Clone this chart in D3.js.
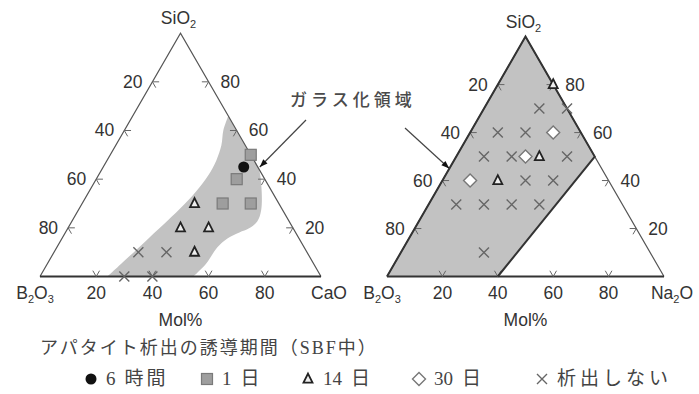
<!DOCTYPE html>
<html><head><meta charset="utf-8">
<script src="https://cdn.jsdelivr.net/npm/d3@7"></script>
<style>
body{margin:0;background:#fff;}
svg{display:block;}
</style></head><body>
<svg id="chart" width="699" height="394"></svg>
<script>
// Compositions in mol%: [B2O3, SiO2, modifier oxide]
const caoSixHours = [[5, 45, 50]];
const caoOneDay = [[0, 50, 50], [10, 40, 50], [20, 30, 50], [10, 30, 60]];
const caoFourteenDays = [[30, 30, 40], [40, 20, 40], [30, 20, 50], [40, 10, 50]];
const caoNone = [[60, 10, 30], [50, 10, 40], [70, 0, 30], [60, 0, 40]];

const na2oFourteenDays = [[0, 80, 20], [20, 50, 30], [40, 40, 20]];
const na2oThirtyDays = [[10, 60, 30], [25, 50, 25], [50, 40, 10]];
const na2oNone = [[10, 70, 20], [0, 70, 30], [30, 60, 10], [20, 60, 20], [40, 50, 10],
  [30, 50, 20], [10, 50, 40], [30, 40, 30], [20, 40, 40], [60, 30, 10], [50, 30, 20],
  [40, 30, 30], [30, 30, 40], [60, 10, 30]];

// Glass-forming region of B2O3-SiO2-CaO: right side (top -> base), then left side (base -> top)
const caoGlassRight = [[0, 66, 34], [0, 55, 45], [0, 44.5, 55.5], [2.5, 37.5, 60], [7.7, 27.2, 65.1],
  [11.4, 22.6, 66], [15.7, 19.8, 64.5], [20, 18.1, 61.9], [25.5, 15.6, 58.9], [31, 11.9, 57.1],
  [38.3, 5.2, 56.5], [45.4, 0, 54.6]];
const caoGlassLeft = [[76, 0, 24], [55.9, 14, 30.1], [36.6, 27.6, 35.8], [26.9, 35, 38.1],
  [19.3, 41.6, 39.1], [13.4, 47.7, 38.9], [8.5, 53.9, 37.6], [4.7, 60.1, 35.2], [0, 66, 34]];
// Glass-forming region of B2O3-SiO2-Na2O
const na2oGlassRegion = [[100, 0, 0], [0, 100, 0], [0, 50, 50], [60, 0, 40]];

const tickValues = [20, 40, 60, 80];
const axisTitle = "Mol%";
const regionLabel = "ガラス化領域";
const legendTitle = "アパタイト析出の誘導期間（SBF中）";
const legendLabels = ["6 時間", "1 日", "14 日", "30 日", "析出しない"];

const svg = d3.select("#chart");
const INK = "#333";
const SANS = "'Liberation Sans', Arial, sans-serif";

function makeTernary(x0, x1, yBase) {
  const side = x1 - x0;
  const h = side * Math.sqrt(3) / 2;
  const xs = d3.scaleLinear().domain([0, 100]).range([x0, x1]);
  const ys = d3.scaleLinear().domain([0, 100]).range([yBase, yBase - h]);
  const proj = d => [xs(d[2] + d[1] / 2), ys(d[1])];
  return { xs, ys, proj, side, h, x0, x1, yBase };
}

const left = makeTernary(40, 321, 276.5);
const right = makeTernary(387, 664, 276.5);

// chemical formula text; digits following a letter are set as subscripts
function formula(g, str, x, y, anchor) {
  const t = g.append("text").attr("x", x).attr("y", y).attr("text-anchor", anchor)
    .attr("font-family", SANS).attr("font-size", 17.5).attr("fill", INK);
  const parts = str.match(/[A-Za-z]+|\d/g);
  let shifted = false;
  parts.forEach(p => {
    const isSub = /\d/.test(p);
    const ts = t.append("tspan").text(p);
    if (isSub) { ts.attr("font-size", 11).attr("dy", 4); shifted = true; }
    else if (shifted) { ts.attr("dy", -4); shifted = false; }
  });
  return t;
}

function drawFrame(T, cornerLabel) {
  const g = svg.append("g");
  const A = T.proj([0, 100, 0]), B = T.proj([100, 0, 0]), C = T.proj([0, 0, 100]);
  g.append("path").attr("d", `M${B}L${A}L${C}`).attr("fill", "none")
    .attr("stroke", "#555").attr("stroke-width", 1.2);
  g.append("line").attr("x1", B[0]).attr("y1", B[1]).attr("x2", C[0]).attr("y2", C[1])
    .attr("stroke", INK).attr("stroke-width", 2.2);

  // chevron ticks along the three edges
  const d = 2.4;
  const tick = (p, a1, a2) => {
    const P = T.proj(p), Q = T.proj(a1), R = T.proj(a2);
    g.append("path").attr("d", `M${Q}L${P}L${R}`).attr("fill", "none")
      .attr("stroke", "#666").attr("stroke-width", 1);
  };
  const label = (x, y, anchor, v) => g.append("text").attr("x", x).attr("y", y)
    .attr("text-anchor", anchor).attr("font-family", SANS).attr("font-size", 17.5)
    .attr("fill", INK).text(v);
  tickValues.forEach(v => {
    // left edge: B2O3 content
    tick([v, 100 - v, 0], [v - d, 100 - v, d], [v, 100 - v - d, d]);
    // right edge: SiO2 content
    tick([0, v, 100 - v], [d, v, 100 - v - d], [d, v - d, 100 - v]);
    // base: modifier oxide content
    tick([100 - v, 0, v], [100 - v - d, d, v], [100 - v, d, v - d]);

    const pl = T.proj([v, 100 - v, 0]);
    label(pl[0] - 10, pl[1] + 6, "end", v);
    const pr = T.proj([0, v, 100 - v]);
    label(pr[0] + 12, pr[1] + 6, "start", v);
    const pb = T.proj([100 - v, 0, v]);
    label(pb[0], pb[1] + 22, "middle", v);
  });

  formula(g, "SiO2", A[0] - 2, A[1] - 9, "middle");
  formula(g, "B2O3", B[0] - 5, B[1] + 22, "middle");
  formula(g, cornerLabel, C[0] + 8, C[1] + 22, "middle");
  g.append("text").attr("x", A[0]).attr("y", 326).attr("text-anchor", "middle")
    .attr("font-family", SANS).attr("font-size", 17.5).attr("fill", INK).text(axisTitle);
  return g;
}

// marker shapes
function marker(g, type, x, y) {
  if (type === "circle") {
    g.append("circle").attr("cx", x).attr("cy", y).attr("r", 5.5).attr("fill", "#111");
  } else if (type === "square") {
    g.append("rect").attr("x", x - 5.5).attr("y", y - 5.5).attr("width", 11).attr("height", 11)
      .attr("fill", "#9e9e9e").attr("stroke", "#7a7a7a").attr("stroke-width", 1.2);
  } else if (type === "triangle") {
    const s = 9;
    g.append("path").attr("d", `M${x},${y - s * 0.6}L${x + s / 2},${y + s * 0.4}L${x - s / 2},${y + s * 0.4}Z`)
      .attr("fill", "#eee").attr("stroke", "#222").attr("stroke-width", 1.8);
  } else if (type === "diamond") {
    const s = 6.5;
    g.append("path").attr("d", `M${x},${y - s}L${x + s},${y}L${x},${y + s}L${x - s},${y}Z`)
      .attr("fill", "#fff").attr("stroke", "#777").attr("stroke-width", 1.4);
  } else if (type === "cross") {
    const s = 5;
    g.append("path").attr("d", `M${x - s},${y - s}L${x + s},${y + s}M${x + s},${y - s}L${x - s},${y + s}`)
      .attr("stroke", "#666").attr("stroke-width", 1.4).attr("fill", "none");
  }
}

// ---- B2O3-SiO2-CaO ----
const curve = d3.line().curve(d3.curveCatmullRom.alpha(0.5));
const rightPath = curve(caoGlassRight.map(left.proj));
const leftPath = curve(caoGlassLeft.map(left.proj)).replace(/^M/, "L");
svg.append("path").attr("d", rightPath + leftPath + "Z").attr("fill", "#c2c2c2").attr("stroke", "none");
drawFrame(left, "CaO");
const gl = svg.append("g");
caoNone.forEach(d => marker(gl, "cross", ...left.proj(d)));
caoFourteenDays.forEach(d => marker(gl, "triangle", ...left.proj(d)));
caoOneDay.forEach(d => marker(gl, "square", ...left.proj(d)));
caoSixHours.forEach(d => marker(gl, "circle", ...left.proj(d)));

// ---- B2O3-SiO2-Na2O ----
svg.append("path").attr("d", d3.line()(na2oGlassRegion.map(right.proj)) + "Z")
  .attr("fill", "#c2c2c2").attr("stroke", "none");
drawFrame(right, "Na2O");
svg.append("path").attr("d", d3.line()(na2oGlassRegion.map(right.proj)))
  .attr("fill", "none").attr("stroke", INK).attr("stroke-width", 2);
const gr = svg.append("g");
na2oNone.forEach(d => marker(gr, "cross", ...right.proj(d)));
na2oThirtyDays.forEach(d => marker(gr, "diamond", ...right.proj(d)));
na2oFourteenDays.forEach(d => marker(gr, "triangle", ...right.proj(d)));

// ---- region label with arrows ----
svg.append("text").attr("x", 290).attr("y", 106).attr("font-family", "'Noto Sans CJK JP', sans-serif")
  .attr("font-size", 17).attr("font-weight", 500).attr("letter-spacing", 4).attr("fill", "#4a4a4a").text(regionLabel);
function arrow(from, to) {
  const [x1, y1] = from, [x2, y2] = to;
  const ang = Math.atan2(y2 - y1, x2 - x1);
  svg.append("line").attr("x1", x1).attr("y1", y1).attr("x2", x2).attr("y2", y2)
    .attr("stroke", "#444").attr("stroke-width", 1.2);
  const L = 8, W = 3;
  const bx = x2 - L * Math.cos(ang), by = y2 - L * Math.sin(ang);
  const px = -Math.sin(ang) * W, py = Math.cos(ang) * W;
  svg.append("path").attr("d", `M${x2},${y2}L${bx + px},${by + py}L${bx - px},${by - py}Z`).attr("fill", "#111");
}
arrow([306, 120], left.proj([0, 45, 55]).map((v, i) => v + (i === 0 ? 2 : 0)));
arrow([405, 128], right.proj([55, 45, 0]));

// ---- legend ----
const LEG = "'Liberation Serif', 'Noto Sans CJK JP', serif";
svg.append("text").attr("x", 40).attr("y", 354).attr("font-family", LEG).attr("font-size", 18)
  .attr("letter-spacing", 2).attr("fill", "#444").text(legendTitle);
const legendTypes = ["circle", "square", "triangle", "diamond", "cross"];
const legendX = [91, 207, 308, 419, 542];
const lg = svg.append("g");
legendTypes.forEach((t, i) => {
  marker(lg, t, legendX[i], 379);
  const txt = lg.append("text").attr("x", legendX[i] + 15).attr("y", 385).attr("font-family", LEG)
    .attr("font-size", 19).attr("fill", "#444");
  const parts = legendLabels[i].split(" ");
  if (parts.length === 2) {
    txt.append("tspan").text(parts[0]);
    txt.append("tspan").attr("dx", 9).attr("letter-spacing", 3).text(parts[1]);
  } else {
    txt.append("tspan").attr("letter-spacing", 4).text(parts[0]);
  }
});
</script>
</body></html>
